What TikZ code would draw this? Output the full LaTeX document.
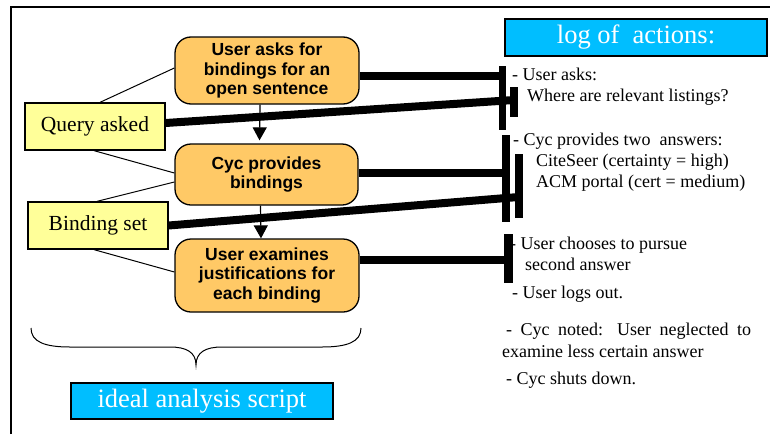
\documentclass[tikz,border=0pt]{standalone}
\usepackage{fontspec}
\setmainfont{Liberation Serif}
\setsansfont{Liberation Sans}
\usetikzlibrary{arrows.meta}
\definecolor{procfill}{RGB}{255,201,102}
\definecolor{notefill}{RGB}{255,255,153}
\definecolor{titlefill}{RGB}{0,190,255}
\tikzset{
  proc/.style={draw=black, line width=1.3pt, fill=procfill, rounded corners=16pt, align=center,
    inner sep=0pt, font=\sffamily\bfseries\fontsize{17.5}{19.8}\selectfont},
  note/.style={draw=black, line width=1.3pt, fill=notefill, inner sep=0pt,
    font=\rmfamily\fontsize{21.5}{24}\selectfont},
  title/.style={draw=black, line width=1.5pt, fill=titlefill, inner sep=0pt, text=white,
    font=\rmfamily\fontsize{26.5}{28}\selectfont},
  bar/.style={fill=black, draw=none, inner sep=0pt},
  thin/.style={line width=1pt},
  heavy/.style={line width=8pt},
  flow/.style={line width=1.2pt, -{Triangle[width=14pt,length=13pt]}},
  logtxt/.style={anchor=mid west, inner sep=0pt, font=\rmfamily\fontsize{18}{21}\selectfont},
}
\begin{document}
\begin{tikzpicture}[x=1pt,y=-1pt]
\useasboundingbox (0,0) rectangle (770,434);
% frame
\draw[line width=2pt] (11,434) -- (11,7) -- (770,7);
% process boxes
\node[proc, minimum width=184pt, minimum height=67pt] (p1) at (267,70.5) {User asks for\\bindings for an\\open sentence};
\node[proc, minimum width=183pt, minimum height=61pt] (p2) at (266.5,174.5) {Cyc provides\\bindings};
\node[proc, minimum width=184pt, minimum height=73pt] (p3) at (267,275.5) {User examines\\justifications for\\each binding};
% notes
\node[note, minimum width=140pt, minimum height=47pt] (q1) at (95,126.5) {Query asked};
\node[note, minimum width=140pt, minimum height=47pt] (q2) at (98,225.5) {Binding set};
% bars
\node[bar, minimum width=7pt, minimum height=64pt] (b1) at (502,98) {};
\node[bar, minimum width=8pt, minimum height=30pt] (b2) at (514,102) {};
\node[bar, minimum width=8pt, minimum height=87pt] (b3) at (506,178.5) {};
\node[bar, minimum width=8pt, minimum height=64pt] (b4) at (518.5,186) {};
\node[bar, minimum width=9pt, minimum height=49pt] (b5) at (508.5,258.5) {};
% flow arrows
\draw[flow] ([xshift=-7pt]p1.south) -- ([xshift=-7pt,yshift=3pt]p2.north);
\draw[flow] ([xshift=-6pt]p2.south) -- ([xshift=-6pt]p3.north);
% thin connectors
\draw[thin] ([xshift=5pt]q1.north) -- ([yshift=2.5pt]p1.west);
\draw[thin] ([xshift=-1pt]q1.south) -- ([yshift=1.5pt]p2.west);
\draw[thin] ([xshift=-1pt]q2.north) -- ([yshift=-7.5pt]p2.west);
\draw[thin] ([xshift=-4pt]q2.south) -- ([yshift=3.5pt]p3.west);
% heavy connectors
\draw[heavy] ([yshift=-5.5pt]p1.east) -- ([yshift=-5.5pt]p1.east -| b1);
\draw[heavy] ([yshift=3.5pt]q1.east) -- ([yshift=2pt]b2.center);
\draw[heavy] ([yshift=2pt]p2.east) -- ([yshift=2pt]p2.east -| b3);
\draw[heavy] (q2.east) -- ([yshift=-11pt]b4.center);
\draw[heavy] ([yshift=16pt]p3.east) -- ([yshift=16pt]p3.east -| b5);
% brace
\draw[line width=1pt] (31,328) .. controls (31,342) and (45,347) .. (70,347) -- (170,347)
  .. controls (186,347) and (196,352) .. (196,365)
  .. controls (196,352) and (206,347) .. (222,347) -- (322,347)
  .. controls (347,347) and (361,342) .. (361,328);
% titles
\node[title, minimum width=262pt, minimum height=37pt] (t1) at (636,37.5) {log of\ \ actions:};
\node[title, minimum width=262pt, minimum height=36pt] (t2) at (202,401) {ideal analysis script};
% log text
\node[logtxt] (l1) at (512,78) {- User asks:};
\node[logtxt] (l2) at (527,99) {Where are relevant listings?};
\node[logtxt] (l3) at (513,143) {- Cyc provides two\ \ answers:};
\node[logtxt] (l4) at (536,164) {CiteSeer (certainty = high)};
\node[logtxt] (l5) at (536,185) {ACM portal (cert = medium)};
\node[logtxt] (l6) at (510,247) {- User chooses to pursue};
\node[logtxt] (l7) at (525,268) {second answer};
\node[logtxt] (l8) at (512,296) {- User logs out.};
\node[logtxt] (l9) at (506,333) {\makebox[245pt][s]{- Cyc noted: User neglected to}};
\node[logtxt] (l10) at (502,355) {examine less certain answer};
\node[logtxt] (l11) at (506,382) {- Cyc shuts down.};
\end{tikzpicture}
\end{document}
